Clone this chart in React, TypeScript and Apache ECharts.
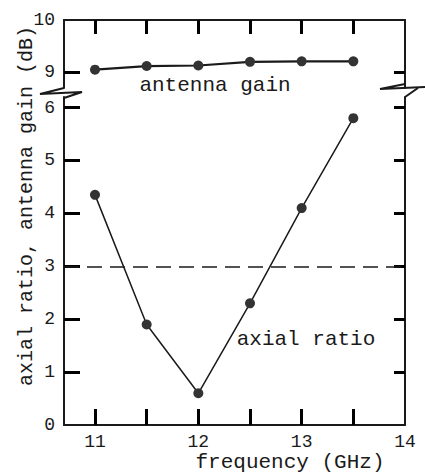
import React, { useEffect, useRef } from "react";
import * as echarts from "echarts";

const frequency = [11, 11.5, 12, 12.5, 13, 13.5];
const antennaGain = [9.05, 9.12, 9.13, 9.2, 9.21, 9.21];
const axialRatio = [4.35, 1.9, 0.6, 2.3, 4.1, 5.8];
const referenceLevel = 3;
const xTicks = [11, 11.5, 12, 12.5, 13, 13.5];
const xLabels = [11, 12, 13, 14];
const gainTicks = [9];
const gainLabels = [9, 10];
const ratioTicks = [1, 2, 3, 4, 5, 6];
const ratioLabels = [0, 1, 2, 3, 4, 5, 6];

const X_MIN = 10.7;
const X_MAX = 14;
const GAIN_MIN = 8.7;
const GAIN_MAX = 10;
const RATIO_MIN = 0;
const RATIO_MAX = 6.2;

const INK = "#1a1a1a";
const TICK = "#000000";
const FONT = "Liberation Mono";

export default function App() {
  const ref = useRef<HTMLDivElement>(null);
  useEffect(() => {
    if (!ref.current) return;
    const chart = echarts.init(ref.current, null, { renderer: "svg" });
    const line = { show: true, lineStyle: { color: INK, width: 2 } };
    const label = { color: INK, fontFamily: FONT, fontSize: 18 };
    const tick = (vals: number[], len: number) => ({
      show: true, inside: true, length: len, customValues: vals,
      lineStyle: { color: TICK, width: 3 },
    });
    chart.setOption({
      animation: false,
      backgroundColor: "#fff",
      grid: [
        { left: 64, right: 20, top: 20, height: 68 },
        { left: 64, right: 20, top: 97, bottom: 50 },
      ],
      xAxis: [
        {
          gridIndex: 0, type: "value", position: "top", min: X_MIN, max: X_MAX,
          axisLine: line, axisTick: tick(xTicks, 14), axisLabel: { show: false },
          splitLine: { show: false },
        },
        {
          gridIndex: 1, type: "value", position: "bottom", min: X_MIN, max: X_MAX,
          axisLine: line, axisTick: tick(xTicks, 16),
          axisLabel: { ...label, margin: 8, customValues: xLabels },
          splitLine: { show: false },
        },
      ],
      yAxis: [
        {
          gridIndex: 0, type: "value", position: "left", min: GAIN_MIN, max: GAIN_MAX,
          axisLine: line, axisTick: tick(gainTicks, 16),
          axisLabel: { ...label, margin: 9, customValues: gainLabels },
          splitLine: { show: false },
        },
        {
          gridIndex: 0, type: "value", position: "right", min: GAIN_MIN, max: GAIN_MAX,
          axisLine: line, axisTick: tick(gainTicks, 11), axisLabel: { show: false },
          splitLine: { show: false },
        },
        {
          gridIndex: 1, type: "value", position: "left", min: RATIO_MIN, max: RATIO_MAX,
          axisLine: line, axisTick: tick(ratioTicks, 16),
          axisLabel: { ...label, margin: 9, customValues: ratioLabels },
          splitLine: { show: false },
        },
        {
          gridIndex: 1, type: "value", position: "right", min: RATIO_MIN, max: RATIO_MAX,
          axisLine: line, axisTick: tick(ratioTicks, 11), axisLabel: { show: false },
          splitLine: { show: false },
        },
      ],
      series: [
        {
          name: "antenna gain", type: "line", xAxisIndex: 0, yAxisIndex: 0,
          data: frequency.map((f, i) => [f, antennaGain[i]]),
          symbol: "circle", symbolSize: 10,
          itemStyle: { color: "#333" },
          lineStyle: { color: INK, width: 2.2 },
          z: 3,
        },
        {
          name: "axial ratio", type: "line", xAxisIndex: 1, yAxisIndex: 2,
          data: frequency.map((f, i) => [f, axialRatio[i]]),
          symbol: "circle", symbolSize: 10,
          itemStyle: { color: "#333" },
          lineStyle: { color: INK, width: 1.5 },
          z: 3,
          markLine: {
            silent: true, symbol: "none", label: { show: false },
            lineStyle: { color: INK, width: 1.6, type: [15, 8] },
            data: [{ yAxis: referenceLevel }],
          },
        },
      ],
      graphic: [
        {
          type: "polyline",
          shape: { points: [[64, 88], [40, 94], [82, 92], [64, 98]] },
          style: { stroke: INK, lineWidth: 2, fill: "none" },
        },
        {
          type: "polyline",
          shape: { points: [[405, 84], [380, 89], [425, 87]] },
          style: { stroke: INK, lineWidth: 2, fill: "none" },
        },
        {
          type: "line",
          shape: { x1: 418, y1: 88, x2: 405, y2: 97 },
          style: { stroke: INK, lineWidth: 2 },
        },
        {
          type: "text", x: 215, y: 85,
          style: { text: "antenna gain", font: `21px "${FONT}"`, fill: INK, align: "center", verticalAlign: "middle" },
        },
        {
          type: "text", x: 306, y: 339,
          style: { text: "axial ratio", font: `21px "${FONT}"`, fill: INK, align: "center", verticalAlign: "middle" },
        },
        {
          type: "text", x: 290, y: 462,
          style: { text: "frequency (GHz)", font: `21px "${FONT}"`, fill: INK, align: "center", verticalAlign: "middle" },
        },
        {
          type: "text", x: 26, y: 206, rotation: Math.PI / 2,
          style: { text: "axial ratio, antenna gain (dB)", font: `20px "${FONT}"`, fill: INK, align: "center", verticalAlign: "middle" },
        },
      ],
    });
    return () => chart.dispose();
  }, []);
  return <div ref={ref} style={{ position: "fixed", left: 0, top: 0, width: 425, height: 475 }} />;
}
